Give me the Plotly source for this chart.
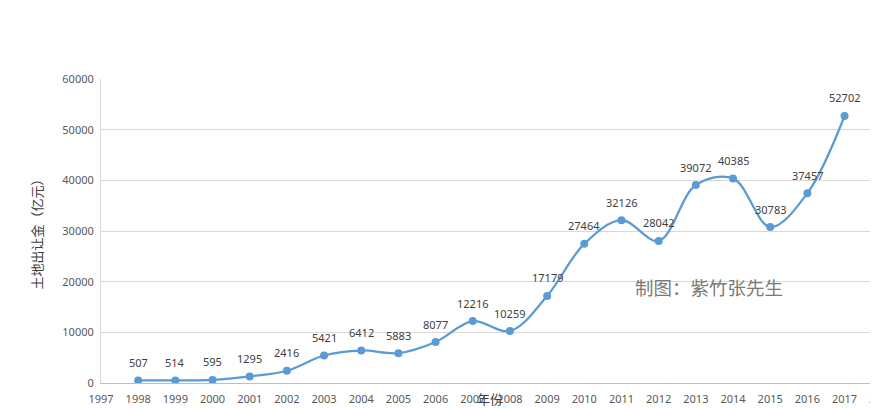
import plotly.graph_objects as go

years = [1998, 1999, 2000, 2001, 2002, 2003, 2004, 2005, 2006, 2007,
         2008, 2009, 2010, 2011, 2012, 2013, 2014, 2015, 2016, 2017]
values = [507, 514, 595, 1295, 2416, 5421, 6412, 5883, 8077, 12216,
          10259, 17179, 27464, 32126, 28042, 39072, 40385, 30783, 37457, 52702]
x_ticks = list(range(1997, 2018))
y_ticks = [0, 10000, 20000, 30000, 40000, 50000, 60000]
y_title = "土地出让金（亿元）"
x_title = "年份"
watermark = "制图：紫竹张先生"

x_range = [1997, 2017.9]
FONT = "Noto Sans, Noto Sans CJK SC, sans-serif"

fig = go.Figure()
fig.add_trace(go.Scatter(
    x=years, y=values, mode="lines+markers",
    line=dict(color="#5B9BD5", width=2.25, shape="spline", smoothing=1.0),
    marker=dict(color="#5B9BD5", size=8),
    hoverinfo="x+y", showlegend=False,
))

anns = []
for xv, yv in zip(years, values):
    anns.append(dict(x=xv, y=yv, xref="x", yref="y", text=str(yv),
                     showarrow=False, yshift=18, xanchor="center", yanchor="middle",
                     font=dict(family=FONT, size=11, color="#404040")))
# cut-off 2018 tick label at the right edge
anns.append(dict(x=(2018 - x_range[0]) / (x_range[1] - x_range[0]), y=0,
                 xref="paper", yref="paper", text="2018", showarrow=False,
                 xanchor="center", yanchor="top", yshift=-6,
                 font=dict(family=FONT, size=11, color="#595959")))
anns.append(dict(x=0.5, y=0, xref="paper", yref="paper", text=x_title,
                 showarrow=False, xanchor="center", yanchor="middle", yshift=-16,
                 font=dict(family=FONT, size=13, color="#404040")))
anns.append(dict(x=0.782, y=0.316, xref="paper", yref="paper", text=watermark,
                 showarrow=False, xanchor="center", yanchor="middle",
                 font=dict(family="Noto Sans CJK SC", size=18.5, color="#7a7a7a")))

fig.update_layout(
    width=878, height=401,
    margin=dict(l=93, r=8, t=71, b=26, autoexpand=False),
    paper_bgcolor="white", plot_bgcolor="white",
    font=dict(family=FONT, size=11, color="#595959"),
    annotations=anns,
    xaxis=dict(range=x_range, tickvals=x_ticks, ticktext=[str(t) for t in x_ticks],
               automargin=False, ticklabelstandoff=6,
               showgrid=False, zeroline=False, showline=True, linecolor="#bfbfbf",
               linewidth=1, ticks="", tickfont=dict(size=11, color="#595959")),
    yaxis=dict(range=[0, 60000], tickvals=y_ticks, ticktext=[str(t) for t in y_ticks],
               automargin=False,
               showgrid=True, gridcolor="#d9d9d9",
               gridwidth=1, zeroline=False, showline=True, linecolor="#d9d9d9",
               ticks="", tickfont=dict(size=11, color="#595959"), ticklabelstandoff=4,
               title=dict(text=y_title, font=dict(size=13, color="#404040"), standoff=16)),
)

fig.write_html("out.html")
